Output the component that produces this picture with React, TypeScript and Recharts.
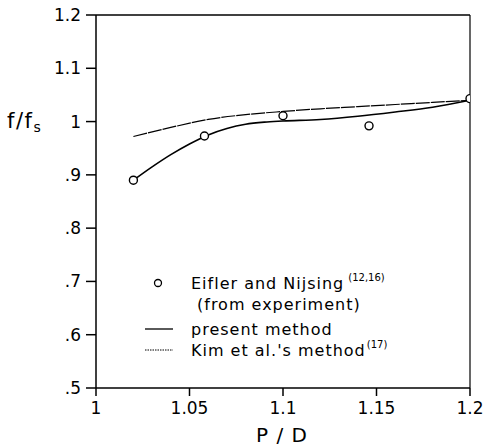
import React from 'react';
import {
  ComposedChart, Line, Scatter, XAxis, YAxis, ReferenceLine,
} from 'recharts';

const xTicks = [1, 1.05, 1.1, 1.15, 1.2];
const yTicks = [0.5, 0.6, 0.7, 0.8, 0.9, 1.0, 1.1, 1.2];

const expPD = [1.02, 1.058, 1.1, 1.146, 1.2];
const expF = [0.89, 0.973, 1.011, 0.992, 1.043];

const presentPD = [1.02, 1.03, 1.04, 1.05, 1.06, 1.07, 1.08, 1.09, 1.1, 1.12, 1.14, 1.16, 1.18, 1.2];
const presentF = [0.89, 0.915, 0.938, 0.958, 0.975, 0.987, 0.995, 0.999, 1.001, 1.004, 1.01, 1.018, 1.027, 1.04];

const kimPD = [1.02, 1.04, 1.06, 1.08, 1.1, 1.12, 1.14, 1.16, 1.18, 1.2];
const kimF = [0.972, 0.989, 1.004, 1.013, 1.019, 1.024, 1.028, 1.032, 1.036, 1.04];

const expData = expPD.map((x, i) => ({ x, y: expF[i] }));
const presentData = presentPD.map((x, i) => ({ x, y: presentF[i] }));
const kimData = kimPD.map((x, i) => ({ x, y: kimF[i] }));

const FONT = '"DejaVu Sans", sans-serif';

const fmtX = (v: number) => (v === 1 ? '1' : String(Number(v.toFixed(2))));
const fmtY = (v: number) => {
  const s = String(Number(v.toFixed(1)));
  return s.startsWith('0') ? s.slice(1) : s;
};

const Circle = (props: any) => {
  const { cx, cy } = props;
  return <circle cx={cx} cy={cy} r={4} fill="#fff" stroke="#000" strokeWidth={1.4} />;
};

export default function App() {
  return (
    <div style={{ position: 'absolute', left: 0, top: 0, width: 485, height: 447, background: '#fff' }}>
      <ComposedChart
        width={485}
        height={447}
        margin={{ top: 15, right: 15, left: 0, bottom: 0 }}
      >
        <XAxis
          dataKey="x"
          type="number"
          domain={[1, 1.2]}
          ticks={xTicks}
          tickFormatter={fmtX}
          height={59}
          tickSize={8}
          tickMargin={6}
          stroke="#000"
          strokeWidth={1.5}
          tick={{ fill: '#000', fontSize: 17, fontFamily: FONT }}
          allowDataOverflow
        />
        <YAxis
          dataKey="y"
          type="number"
          domain={[0.5, 1.2]}
          ticks={yTicks}
          tickFormatter={fmtY}
          width={96}
          tickSize={10}
          tickMargin={5}
          stroke="#000"
          strokeWidth={1.5}
          tick={{ fill: '#000', fontSize: 17, fontFamily: FONT }}
          allowDataOverflow
        />
        <ReferenceLine y={1.2} stroke="#000" strokeWidth={1.5} />
        <ReferenceLine x={1.2} stroke="#000" strokeWidth={1.2} />
        <Line
          data={kimData}
          dataKey="y"
          type="monotone"
          stroke="#000"
          strokeWidth={1.2}
          strokeDasharray="14 1"
          dot={false}
          isAnimationActive={false}
          legendType="none"
        />
        <Line
          data={presentData}
          dataKey="y"
          type="monotone"
          stroke="#000"
          strokeWidth={1.6}
          dot={false}
          isAnimationActive={false}
          legendType="none"
        />
        <Scatter
          data={expData}
          dataKey="y"
          shape={<Circle />}
          isAnimationActive={false}
          legendType="none"
        />
      </ComposedChart>
      <svg style={{ position: 'absolute', left: 0, top: 0 }} width={485} height={447} pointerEvents="none">
        <text x={7} y={128} fontFamily={FONT} fontSize={21} fill="#000" letterSpacing={1.5}>
          f/f<tspan fontSize={14} dy={4}>s</tspan>
        </text>
        <text x={282} y={442} textAnchor="middle" fontFamily={FONT} fontSize={20} fill="#000" letterSpacing={1}>
          P / D
        </text>
        <g transform="translate(140,275)" fontFamily={FONT} fontSize={16} fill="#000" letterSpacing={1}>
          <circle cx={18} cy={8} r={3.5} fill="#fff" stroke="#000" strokeWidth={1.3} />
          <text x={51} y={14}>
            Eifler and Nijsing
            <tspan dx={4} dy={-8} fontSize={10} letterSpacing={0}>(12,16)</tspan>
          </text>
          <text x={57} y={35}>(from experiment)</text>
          <line x1={5} x2={33} y1={54} y2={54} stroke="#000" strokeWidth={1.3} />
          <text x={51} y={60}>present method</text>
          <line x1={5} x2={33} y1={75} y2={75} stroke="#000" strokeWidth={1} strokeDasharray="1.5 1" />
          <text x={51} y={81}>
            Kim et al.'s method
            <tspan dx={1} dy={-8} fontSize={10} letterSpacing={0}>(17)</tspan>
          </text>
        </g>
      </svg>
    </div>
  );
}
